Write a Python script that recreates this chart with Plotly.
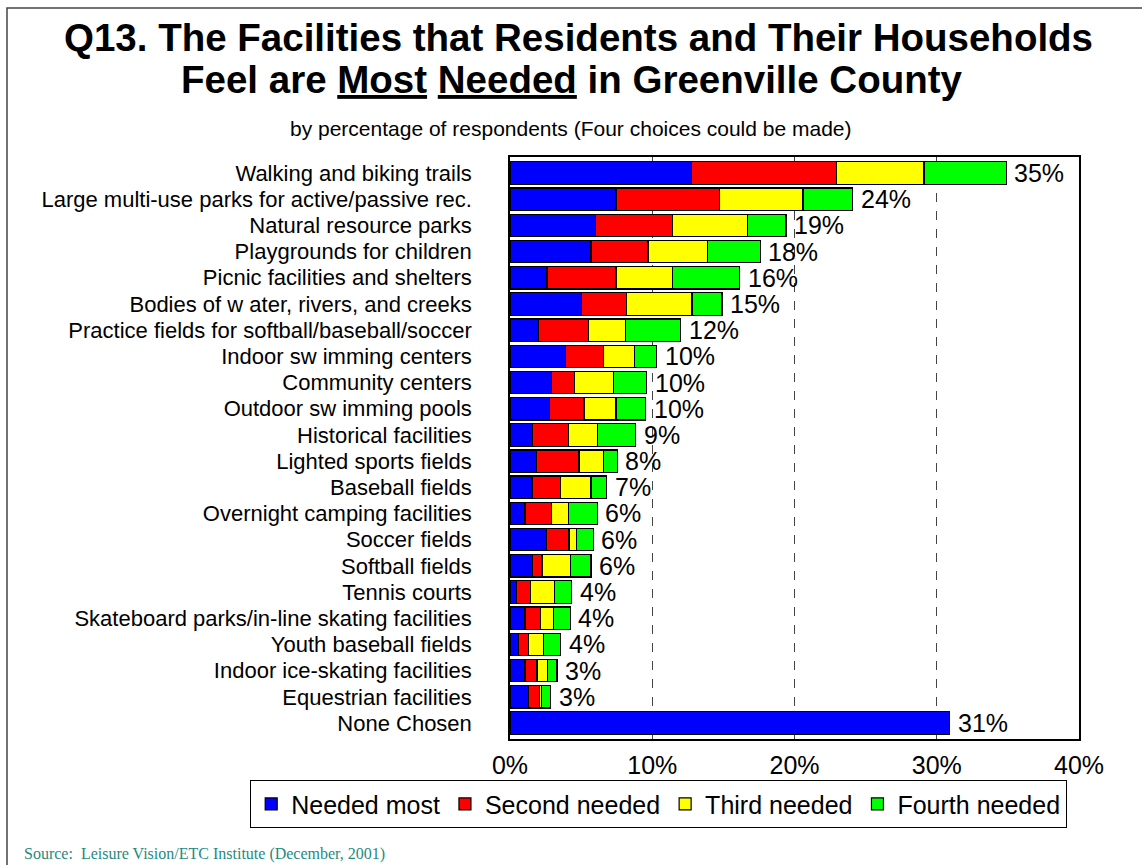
import plotly.graph_objects as go

categories = [
    "Walking and biking trails",
    "Large multi-use parks for active/passive rec.",
    "Natural resource parks",
    "Playgrounds for children",
    "Picnic facilities and shelters",
    "Bodies of w ater, rivers, and creeks",
    "Practice fields for softball/baseball/soccer",
    "Indoor sw imming centers",
    "Community centers",
    "Outdoor sw imming pools",
    "Historical facilities",
    "Lighted sports fields",
    "Baseball fields",
    "Overnight camping facilities",
    "Soccer fields",
    "Softball fields",
    "Tennis courts",
    "Skateboard parks/in-line skating facilities",
    "Youth baseball fields",
    "Indoor ice-skating facilities",
    "Equestrian facilities",
    "None Chosen",
]
needed_most = [12.75, 7.45, 6.0, 5.7, 2.6, 5.0, 2.0, 3.9, 2.9, 2.8, 1.6, 1.85, 1.55, 1.05, 2.55, 1.6, 0.45, 1.05, 0.6, 1.05, 1.3, 30.9]
second_needed = [10.2, 7.3, 5.45, 4.0, 4.85, 3.2, 3.5, 2.7, 1.65, 2.4, 2.5, 3.0, 2.0, 1.85, 1.6, 0.65, 1.0, 1.1, 0.7, 0.85, 0.75, None]
third_needed = [6.15, 5.85, 5.25, 4.2, 4.0, 4.6, 2.6, 2.15, 2.7, 2.25, 2.05, 1.75, 2.15, 1.2, 0.55, 2.0, 1.7, 0.9, 1.05, 0.75, 0.15, None]
fourth_needed = [5.8, 3.5, 2.7, 3.7, 4.7, 2.1, 3.9, 1.55, 2.35, 2.1, 2.7, 0.95, 1.1, 2.05, 1.15, 1.45, 1.2, 1.2, 1.2, 0.65, 0.65, None]
total_labels = ["35%", "24%", "19%", "18%", "16%", "15%", "12%", "10%", "10%", "10%", "9%", "8%",
                "7%", "6%", "6%", "6%", "4%", "4%", "4%", "3%", "3%", "31%"]
series_names = ["Needed most", "Second needed", "Third needed", "Fourth needed"]
series_colors = ["#0000FF", "#FF0000", "#FFFF00", "#00FF00"]
x_ticks = [0, 10, 20, 30, 40]
x_tick_labels = ["0%", "10%", "20%", "30%", "40%"]

W, H = 1142, 865
L, R, T, B = 510, 1079, 157, 739  # plot area pixel bounds


def px(xp):
    return (xp - L) / (R - L)


def py(yp):
    return (B - yp) / (B - T)


FONT = "Liberation Sans, Arial, sans-serif"

fig = go.Figure()
for name, vals, col in zip(series_names, [needed_most, second_needed, third_needed, fourth_needed], series_colors):
    fig.add_trace(go.Bar(
        y=categories, x=vals, name=name, orientation="h",
        marker=dict(color=col, line=dict(color="black", width=1.2)),
    ))

totals = []
for i in range(len(categories)):
    s = 0
    for arr in (needed_most, second_needed, third_needed, fourth_needed):
        if arr[i] is not None:
            s += arr[i]
    totals.append(s)

annotations = []
for cat, tot, lab in zip(categories, totals, total_labels):
    annotations.append(dict(x=tot, y=cat, xref="x", yref="y", text=lab, showarrow=False,
                            xanchor="left", yanchor="middle", xshift=6,
                            font=dict(family=FONT, size=25, color="black")))

annotations.append(dict(x=px(578), y=py(37), xref="paper", yref="paper",
                        text="<b>Q13. The Facilities that Residents and Their Households</b>",
                        showarrow=False, xanchor="center", yanchor="middle",
                        font=dict(family=FONT, size=38.5, color="black")))
annotations.append(dict(x=px(572), y=py(79), xref="paper", yref="paper",
                        text="<b>Feel are <u>Most</u> <u>Needed</u> in Greenville County</b>",
                        showarrow=False, xanchor="center", yanchor="middle",
                        font=dict(family=FONT, size=38.5, color="black")))
annotations.append(dict(x=px(571), y=py(129), xref="paper", yref="paper",
                        text="by percentage of respondents (Four choices could be made)",
                        showarrow=False, xanchor="center", yanchor="middle",
                        font=dict(family=FONT, size=21, color="black")))
annotations.append(dict(x=px(22), y=py(854), xref="paper", yref="paper",
                        text="Source:  Leisure Vision/ETC Institute (December, 2001)",
                        showarrow=False, xanchor="left", yanchor="middle",
                        font=dict(family="Liberation Serif, Times New Roman, serif", size=16, color="#1f8a80")))

shapes = [dict(type="rect", xref="paper", yref="paper",
               x0=px(7), x1=px(1160), y0=py(8), y1=py(880),
               line=dict(color="#444444", width=1.5), fillcolor="rgba(0,0,0,0)", layer="below")]

fig.update_layout(
    width=W, height=H,
    margin=dict(l=L, r=W - R, t=T, b=H - B, autoexpand=False),
    barmode="stack", bargap=0.145,
    paper_bgcolor="white", plot_bgcolor="white",
    font=dict(family=FONT, color="black"),
    showlegend=True,
    legend=dict(orientation="h", x=px(250), y=py(780), xanchor="left", yanchor="top",
                traceorder="normal", bordercolor="black", borderwidth=1.2,
                font=dict(family=FONT, size=25, color="black"),
                itemwidth=30, bgcolor="white"),
    annotations=annotations,
    shapes=shapes,
    xaxis=dict(range=[0, 40], tickvals=x_ticks, ticktext=x_tick_labels,
               showgrid=True, gridcolor="#444444", griddash="dash", gridwidth=1,
               showline=True, linecolor="black", linewidth=1.5, mirror=True,
               ticks="", ticklabelstandoff=3, zeroline=False,
               tickfont=dict(family=FONT, size=25, color="black"), automargin=False),
    yaxis=dict(autorange="reversed", showline=True, linecolor="black", linewidth=1.5, mirror=True,
               ticks="", ticklabelstandoff=32, showgrid=False,
               tickfont=dict(family=FONT, size=22, color="black"), automargin=False),
)

fig.write_html("out.html",
               config={"displayModeBar": False},
               post_script="document.body.style.margin='0px';document.body.style.padding='0px';"
                           "document.body.style.overflow='hidden';")
